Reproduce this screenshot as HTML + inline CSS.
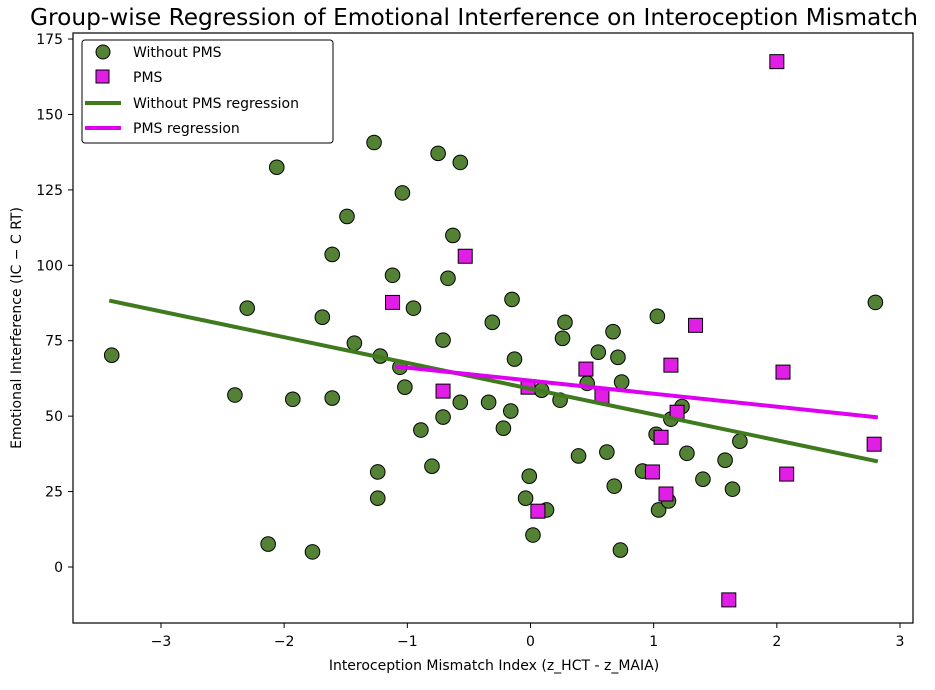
<!DOCTYPE html>
<html><head><meta charset="utf-8"><style>
body{margin:0;background:#fff;}
svg text{font-family:"DejaVu Sans","Liberation Sans",sans-serif;fill:#000;}
</style></head><body>
<svg id="chart" width="935" height="685" xmlns="http://www.w3.org/2000/svg">
<text x="474" y="25" font-size="23" text-anchor="middle" textLength="888" lengthAdjust="spacingAndGlyphs">Group-wise Regression of Emotional Interference on Interoception Mismatch</text>
<g id="plot"></g>
<rect x="73" y="33" width="840" height="590" fill="none" stroke="#000" stroke-width="1.2"/>
<text x="494" y="670" font-size="14" text-anchor="middle">Interoception Mismatch Index (z_HCT - z_MAIA)</text>
<text transform="translate(21,328) rotate(-90)" font-size="14" text-anchor="middle">Emotional Interference (IC − C RT)</text>
<g>
<rect x="82" y="40" width="251" height="103" rx="3" fill="#fff" stroke="#000" stroke-width="1"/>
<circle cx="103" cy="52" r="7" fill="#548235" stroke="#000"/>
<text x="133" y="57" font-size="14">Without PMS</text>
<rect x="96" y="70" width="13" height="13" fill="#e11ee6" stroke="#000"/>
<text x="133" y="82" font-size="14">PMS</text>
<line x1="85" y1="103" x2="121" y2="103" stroke="#3f7a1f" stroke-width="4"/>
<text x="133" y="108" font-size="14">Without PMS regression</text>
<line x1="85" y1="128" x2="121" y2="128" stroke="#de00f0" stroke-width="4"/>
<text x="133" y="133" font-size="14">PMS regression</text>
</g>
</svg>
<script>
const xTicks=[-3,-2,-1,0,1,2,3];
const yTicks=[0,25,50,75,100,125,150,175];
const greenX=[-3.40,-2.40,-2.30,-2.13,-2.06,-1.93,-1.77,-1.69,-1.61,-1.61,-1.49,-1.43,-1.27,-1.24,-1.24,-1.22,-1.12,-1.06,-1.02,-0.95,-0.89,-0.80,-0.75,-0.71,-0.71,-0.67,-0.63,-0.57,-0.57,-0.31,-0.34,-0.22,-0.16,-0.15,-0.13,-0.04,-0.01,0.02,0.09,0.13,0.24,0.26,0.28,0.39,0.46,0.55,0.62,0.67,0.68,0.71,0.73,0.74,0.91,1.03,1.02,1.04,1.14,1.23,1.27,1.40,1.58,1.64,1.70,1.12,2.80,-1.04];
const greenY=[70.2,57.0,85.8,7.6,132.5,55.6,5.0,82.8,103.6,56.0,116.2,74.2,140.7,22.8,31.5,69.9,96.7,66.2,59.6,85.8,45.4,33.4,137.1,49.7,75.2,95.7,109.9,134.1,54.6,81.1,54.6,46.0,51.7,88.7,68.9,22.8,30.1,10.6,58.6,18.9,55.3,75.8,81.1,36.8,60.9,71.2,38.1,78.0,26.8,69.5,5.6,61.3,31.8,83.1,44.0,18.9,49.0,53.2,37.7,29.1,35.4,25.8,41.7,21.9,87.7,124.0];
const pmsX=[-1.12,-0.71,-0.53,0.06,-0.02,0.45,0.58,0.99,1.06,1.10,1.14,1.19,1.34,1.61,2.00,2.05,2.08,2.79];
const pmsY=[87.7,58.3,103.0,18.5,59.6,65.6,56.6,31.5,43.0,24.2,66.9,51.3,80.1,-10.9,167.5,64.6,30.8,40.7];
const greenLineX=[-3.42,2.82];
const greenLineY=[88.3,35.0];
const pmsLineX=[-1.10,2.82];
const pmsLineY=[66.5,49.6];

const NS="http://www.w3.org/2000/svg";
const sx=v=>530.5+v*123.17;
const sy=v=>567-v*3.017;
const svg=document.getElementById('chart');
const plot=document.getElementById('plot');
function mk(tag,attrs,parent){const e=document.createElementNS(NS,tag);for(const k in attrs)e.setAttribute(k,attrs[k]);(parent||plot).appendChild(e);return e;}
xTicks.forEach(t=>{
  const l=mk('line',{x1:sx(t),x2:sx(t),y1:623,y2:628,stroke:'#000'},svg);
  
  
  const tx=mk('text',{x:sx(t),y:646,'font-size':14,'text-anchor':'middle'},svg);
  tx.textContent=t<0?'−'+Math.abs(t):String(t);
  
  
});
yTicks.forEach(t=>{
  const l=mk('line',{x1:68,x2:73,y1:sy(t),y2:sy(t),stroke:'#000'},svg);
  
  
  const tx=mk('text',{x:63,y:sy(t)+5,'font-size':14,'text-anchor':'end'},svg);
  tx.textContent=String(t);
  
  
});
greenX.forEach((x,i)=>{
  const c=mk('circle',{cx:sx(x),cy:sy(greenY[i]),r:7.3,fill:'#548235',stroke:'#000','stroke-width':1});
  
  
});
pmsX.forEach((x,i)=>{
  const r=mk('rect',{x:sx(x)-7,y:sy(pmsY[i])-7,width:14,height:14,fill:'#e11ee6',stroke:'#000','stroke-width':1});
  
  
});
const gl=mk('line',{x1:sx(greenLineX[0]),y1:sy(greenLineY[0]),x2:sx(greenLineX[1]),y2:sy(greenLineY[1]),stroke:'#3f7a1f','stroke-width':4});


const pl=mk('line',{x1:sx(pmsLineX[0]),y1:sy(pmsLineY[0]),x2:sx(pmsLineX[1]),y2:sy(pmsLineY[1]),stroke:'#de00f0','stroke-width':4});


</script>
</body></html>
